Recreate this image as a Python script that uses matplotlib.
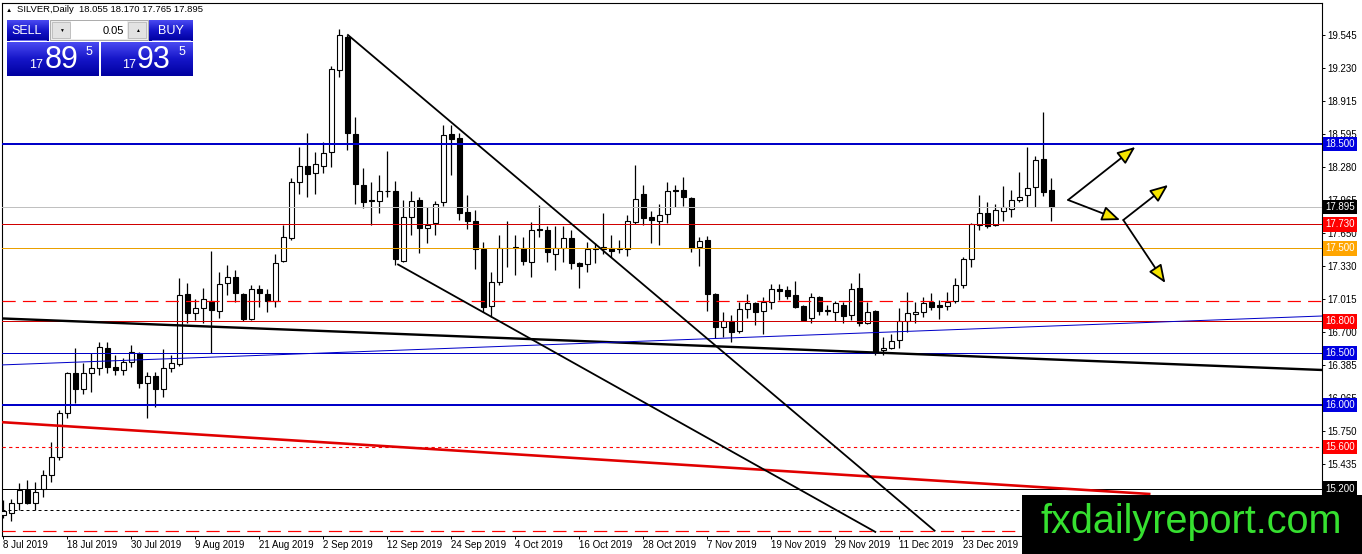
import numpy as np
import matplotlib
matplotlib.use('Agg')
import matplotlib.pyplot as plt
import matplotlib.transforms as mtransforms
from matplotlib.patches import Rectangle, FancyArrowPatch
from matplotlib.colors import LinearSegmentedColormap

plt.rcParams['font.family'] = ['Liberation Sans', 'DejaVu Sans']

# SILVER daily bars, 8 Jul 2019 .. 9 Jan 2020
opens = [14.95, 14.97, 15.06, 15.19, 15.06, 15.20, 15.33, 15.50, 15.92, 16.31,
         16.15, 16.31, 16.35, 16.55, 16.36, 16.34, 16.41, 16.50, 16.21, 16.28,
         16.15, 16.35, 16.39, 17.06, 16.88, 16.93, 17.00, 16.90, 17.17, 17.23,
         17.06, 16.82, 17.11, 17.06, 17.00, 17.38, 17.60, 18.14, 18.29, 18.22,
         18.29, 18.42, 19.21, 19.53, 18.60, 18.11, 17.96, 17.95, 18.05, 18.05,
         17.38, 17.80, 17.96, 17.70, 17.74, 17.94, 18.60, 18.56, 17.85, 17.76,
         17.49, 16.95, 17.18, 17.50, 17.50, 17.50, 17.37, 17.69, 17.68, 17.45,
         17.50, 17.60, 17.36, 17.35, 17.49, 17.49, 17.50, 17.49, 17.49, 17.75,
         18.02, 17.80, 17.76, 17.83, 18.06, 18.06, 17.98, 17.51, 17.58, 17.06,
         16.75, 16.80, 16.71, 16.92, 16.98, 16.90, 16.99, 17.11, 17.10, 17.05,
         16.95, 16.83, 17.03, 16.91, 16.89, 16.96, 16.86, 17.12, 16.79, 16.90,
         16.53, 16.55, 16.62, 16.80, 16.87, 16.89, 16.99, 16.96, 16.95, 17.00,
         17.15, 17.40, 17.72, 17.84, 17.72, 17.86, 17.88, 17.96, 18.01, 18.09,
         18.36, 18.055]
highs = [15.09, 15.10, 15.25, 15.28, 15.26, 15.38, 15.65, 15.95, 16.32, 16.55,
         16.40, 16.50, 16.60, 16.60, 16.48, 16.45, 16.57, 16.51, 16.32, 16.32,
         16.54, 16.48, 17.22, 17.17, 17.02, 17.12, 17.48, 17.27, 17.34, 17.29,
         17.07, 17.15, 17.15, 17.11, 17.45, 17.72, 18.17, 18.47, 18.61, 18.42,
         18.52, 19.25, 19.60, 19.54, 18.76, 18.27, 18.14, 18.20, 18.43, 18.15,
         17.96, 18.05, 17.99, 17.90, 17.95, 18.68, 18.68, 18.61, 18.01, 17.87,
         17.56, 17.27, 17.63, 17.76, 17.63, 17.61, 17.75, 17.92, 17.71, 17.71,
         17.71, 17.68, 17.37, 17.56, 17.55, 17.84, 17.63, 17.58, 17.82, 18.30,
         18.11, 17.86, 17.93, 18.14, 18.11, 18.18, 17.99, 17.61, 17.62, 17.07,
         16.89, 16.86, 16.99, 17.06, 16.99, 17.03, 17.16, 17.16, 17.14, 17.19,
         16.96, 17.07, 17.04, 16.96, 17.00, 16.99, 17.17, 17.26, 16.99, 16.91,
         16.65, 16.68, 16.93, 17.08, 16.99, 17.03, 17.07, 17.01, 17.08, 17.22,
         17.42, 17.74, 18.01, 17.94, 17.93, 18.10, 18.06, 18.23, 18.47, 18.39,
         18.81, 18.170]
lows = [14.92, 14.89, 14.99, 15.05, 14.99, 15.12, 15.26, 15.47, 15.88, 16.02,
        16.11, 16.12, 16.29, 16.31, 16.29, 16.29, 16.36, 16.16, 15.88, 15.98,
        16.08, 16.32, 16.37, 16.79, 16.81, 16.79, 16.50, 16.83, 17.05, 16.99,
        16.80, 16.81, 16.94, 16.89, 16.94, 17.37, 17.58, 18.02, 17.99, 18.02,
        18.22, 18.28, 19.14, 18.44, 17.93, 17.89, 17.72, 17.84, 17.99, 17.34,
        17.37, 17.63, 17.46, 17.55, 17.63, 17.91, 18.20, 17.77, 17.69, 17.30,
        16.89, 16.84, 17.15, 17.32, 17.25, 17.34, 17.23, 17.61, 17.37, 17.29,
        17.37, 17.30, 17.12, 17.27, 17.36, 17.45, 17.42, 17.46, 17.43, 17.73,
        17.72, 17.55, 17.53, 17.74, 17.90, 17.91, 17.47, 17.33, 16.90, 16.64,
        16.65, 16.60, 16.69, 16.83, 16.77, 16.68, 16.92, 17.01, 17.02, 16.93,
        16.80, 16.79, 16.86, 16.86, 16.80, 16.79, 16.81, 16.76, 16.78, 16.48,
        16.48, 16.54, 16.55, 16.70, 16.79, 16.84, 16.91, 16.82, 16.91, 16.98,
        17.12, 17.32, 17.68, 17.70, 17.71, 17.76, 17.80, 17.94, 17.90, 17.90,
        18.00, 17.765]
closes = [14.98, 15.06, 15.19, 15.06, 15.17, 15.33, 15.50, 15.92, 16.31, 16.15,
          16.31, 16.35, 16.56, 16.36, 16.34, 16.41, 16.51, 16.21, 16.28, 16.15,
          16.35, 16.40, 17.05, 16.88, 16.93, 17.02, 16.91, 17.16, 17.23, 17.07,
          16.82, 17.11, 17.07, 17.00, 17.36, 17.61, 18.14, 18.29, 18.21, 18.31,
          18.41, 19.22, 19.54, 18.61, 18.12, 17.94, 17.95, 18.05, 18.05, 17.40,
          17.80, 17.95, 17.70, 17.72, 17.93, 18.59, 18.55, 17.84, 17.76, 17.49,
          16.94, 17.18, 17.50, 17.50, 17.51, 17.38, 17.68, 17.68, 17.47, 17.50,
          17.60, 17.36, 17.33, 17.49, 17.50, 17.51, 17.48, 17.50, 17.76, 17.97,
          17.79, 17.77, 17.82, 18.05, 18.05, 17.99, 17.50, 17.57, 17.06, 16.75,
          16.80, 16.70, 16.92, 16.98, 16.89, 16.99, 17.11, 17.09, 17.04, 16.94,
          16.81, 17.03, 16.90, 16.90, 16.98, 16.85, 17.11, 16.79, 16.89, 16.51,
          16.55, 16.61, 16.80, 16.88, 16.89, 16.98, 16.94, 16.94, 16.99, 17.15,
          17.40, 17.73, 17.84, 17.71, 17.87, 17.90, 17.96, 17.99, 18.08, 18.35,
          18.04, 17.895]

date_labels = ['8 Jul 2019', '18 Jul 2019', '30 Jul 2019', '9 Aug 2019', '21 Aug 2019',
               '2 Sep 2019', '12 Sep 2019', '24 Sep 2019', '4 Oct 2019', '16 Oct 2019',
               '28 Oct 2019', '7 Nov 2019', '19 Nov 2019', '29 Nov 2019', '11 Dec 2019',
               '23 Dec 2019']
label_step = 8

price_ticks = [19.545, 19.230, 18.915, 18.595, 18.280, 17.965, 17.650, 17.330,
               17.015, 16.700, 16.385, 16.065, 15.750, 15.435, 15.120]

# horizontal levels: price, colour, width, style
levels = [
    (18.500, '#0000c8', 2.0, '-'),
    (17.895, '#c0c0c0', 1.0, '-'),
    (17.730, '#d00000', 1.0, '-'),
    (17.500, '#eaa000', 1.0, '-'),
    (17.000, '#ff0000', 1.2, (0, (11, 6))),
    (16.800, '#d00000', 1.0, '-'),
    (16.500, '#0000c8', 1.0, '-'),
    (16.000, '#0000c8', 2.0, '-'),
    (15.600, '#ff0000', 1.1, (0, (3, 3))),
    (15.200, 'black', 1.0, '-'),
    (14.990, 'black', 1.0, (0, (3, 3))),
    (14.790, '#ff0000', 1.2, (0, (11, 6))),
]
# price tags on the axis
tags = [(18.500, '#0000e0'), (17.895, 'black'), (17.730, '#ff0000'),
        (17.500, '#ffa500'), (16.800, '#ff0000'), (16.500, '#0000e0'),
        (16.000, '#0000e0'), (15.600, '#ff0000'), (15.200, 'black')]

# trend lines: (bar, price) pairs
trend_black = [(-0.5, 16.83), (165, 16.335)]
trend_blue = [(-0.5, 16.383), (165, 16.853)]
trend_red = [(-0.5, 15.837), (143.4, 15.147)]
channel_top = [(43, 19.55), (116.5, 14.79)]
channel_low = [(49.25, 17.35), (109.1, 14.78)]
# forecast arrows: start, end
arrows = [((133.1, 17.964), (141.5, 18.472)),
          ((133.1, 17.964), (139.6, 17.772)),
          ((140.0, 17.772), (145.6, 18.108)),
          ((140.0, 17.772), (145.25, 17.169))]

W, H = 1362, 554
fig = plt.figure(figsize=(W / 100, H / 100), dpi=100)
ax = fig.add_axes([2 / W, 18 / H, 1319.7 / W, 533 / H])
ax.set_xlim(-0.16, 164.8)
ax.set_ylim(14.745, 19.851)

x = np.arange(len(opens))
o = np.array(opens)
c = np.array(closes)
up = c >= o
ax.vlines(x, lows, highs, color='black', lw=0.9, zorder=2)
ax.bar(x, np.abs(c - o), bottom=np.minimum(o, c), width=0.64,
       color=np.where(up, 'white', 'black'), edgecolor='black', linewidth=0.8, zorder=3)

for p, col, lw, ls in levels:
    ax.axhline(p, color=col, lw=lw * 0.72, linestyle=ls, zorder=4)

for pts, col, lw in [(trend_black, 'black', 2.4), (trend_blue, '#0000c8', 1.0),
                     (trend_red, '#e00000', 2.6), (channel_top, 'black', 1.8),
                     (channel_low, 'black', 1.8)]:
    xs, ys = zip(*pts)
    ax.plot(xs, ys, color=col, lw=lw * 0.72, zorder=5, solid_capstyle='butt')

for a, b in arrows:
    ax.add_patch(FancyArrowPatch(a, b, arrowstyle='-|>,head_length=1.1,head_width=0.45',
                                 mutation_scale=10, facecolor='#f5e400', edgecolor='black',
                                 linewidth=1.3, zorder=6, shrinkA=0, shrinkB=0))

for s in ax.spines.values():
    s.set_color('black')
    s.set_linewidth(0.8)

ax.yaxis.tick_right()
ax.set_yticks(price_ticks)
ax.set_yticklabels([f'{t:.3f}' for t in price_ticks])
ax.tick_params(axis='y', length=2.2, width=0.7, pad=1.5, labelsize=7)
ax.set_xticks(np.arange(len(date_labels)) * label_step)
ax.set_xticklabels(date_labels)
for lbl in ax.get_xticklabels():
    lbl.set_ha('left')
ax.tick_params(axis='x', length=2.0, width=0.7, pad=1.0, labelsize=7)

blend = mtransforms.blended_transform_factory(ax.transAxes, ax.transData)
for p, col in tags:
    ax.text(1.0028, p, f'{p:.3f}', transform=blend, ha='left', va='center', fontsize=7,
            color='white', zorder=10, clip_on=False,
            bbox=dict(boxstyle='square,pad=0.22', fc=col, ec='none'))

# header
fig.text(6 / W, 1 - 10 / H, '\u25b2', fontsize=4.5, va='center', ha='left')
fig.text(17 / W, 1 - 10 / H, 'SILVER,Daily  18.055 18.170 17.765 17.895',
         fontsize=6.8, va='center', ha='left')

# one-click trading panel (pixel coordinates)
pan = fig.add_axes([5 / W, 1 - 78 / H, 190 / W, 59 / H])
pan.set_xlim(5, 195)
pan.set_ylim(78, 19)
pan.axis('off')
cmap = LinearSegmentedColormap.from_list('mtblue', ['#4a4af2', '#1515c8', '#0000a0'])
grad = np.linspace(0, 1, 64).reshape(-1, 1)
for x0, y0, x1, y1 in [(7, 20, 49, 41), (149, 20, 193, 41), (7, 42, 99, 76), (101, 42, 193, 76)]:
    pan.imshow(grad, cmap=cmap, extent=(x0, x1, y1, y0), aspect='auto', zorder=1)
pan.add_patch(Rectangle((50, 20), 98, 20, fc='#ececec', ec='#a0a0a0', lw=0.6, zorder=1))
pan.add_patch(Rectangle((71, 21), 56, 18, fc='white', ec='none', zorder=2))
pan.add_patch(Rectangle((52, 22), 18, 16, fc='#e2e2e2', ec='#b0b0b0', lw=0.5, zorder=2))
pan.add_patch(Rectangle((128, 22), 18, 16, fc='#e2e2e2', ec='#b0b0b0', lw=0.5, zorder=2))
pan.plot([10, 46], [40, 40], color='#8080ff', lw=0.6, zorder=3)
pan.plot([152, 190], [40, 40], color='#8080ff', lw=0.6, zorder=3)
pan.text(61, 30.5, '\u25bc', fontsize=3.5, ha='center', va='center', zorder=4)
pan.text(137, 30.5, '\u25b2', fontsize=3.5, ha='center', va='center', zorder=4)
pan.text(124, 30.5, '0.05', fontsize=8, ha='right', va='center', zorder=4)
pan.text(27, 31, 'SELL', fontsize=9, color='white', ha='center', va='center', zorder=4)
pan.text(171, 31, 'BUY', fontsize=9, color='white', ha='center', va='center', zorder=4)
for x17, xbig, x5, big in [(36, 62, 89, '89'), (129, 154, 182, '93')]:
    pan.text(x17, 65, '17', fontsize=9, color='white', ha='center', va='center', zorder=4)
    pan.text(xbig, 60, big, fontsize=22, color='white', ha='center', va='center', zorder=4)
    pan.text(x5, 52, '5', fontsize=9, color='white', ha='center', va='center', zorder=4)

# watermark
fig.patches.append(Rectangle((1022 / W, 0), 340 / W, 59 / H, transform=fig.transFigure,
                             fc='black', ec='none', zorder=20))
fig.text(1191 / W, 1 - 522 / H, 'fxdailyreport.com', fontsize=28.5, color='#36e030',
         ha='center', va='center', zorder=21)

fig.savefig('out.png', dpi=100)
